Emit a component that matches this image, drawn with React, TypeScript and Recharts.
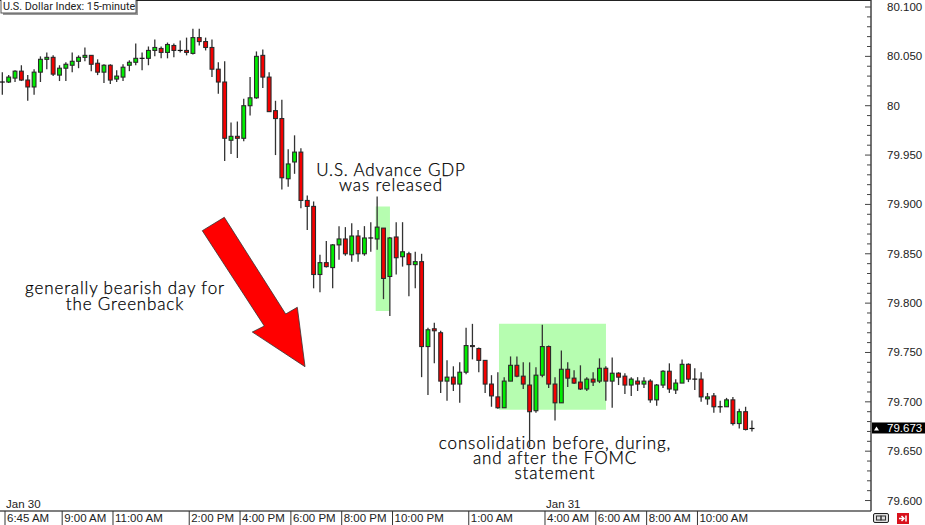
import React from 'react';
import { ComposedChart, Bar, XAxis, YAxis, ReferenceArea } from 'recharts';

const opens = [
  80.024, 80.024, 80.028, 80.035, 80.026, 80.019, 80.034, 80.047, 80.049, 80.031,
  80.038, 80.041, 80.045, 80.049, 80.051, 80.043, 80.034, 80.041, 80.027, 80.029,
  80.041, 80.044, 80.048, 80.048, 80.056, 80.058, 80.054, 80.061, 80.056, 80.056,
  80.053, 80.069, 80.065, 80.059, 80.037, 80.024, 79.965, 79.969, 79.967, 80.0,
  80.008, 80.051, 80.029, 79.995, 79.987, 79.926, 79.943, 79.953, 79.904, 79.898,
  79.829, 79.841, 79.836, 79.859, 79.865, 79.849, 79.868, 79.85, 79.866, 79.865,
  79.876, 79.827, 79.867, 79.847, 79.85, 79.839, 79.842, 79.756, 79.774, 79.77,
  79.721, 79.725, 79.718, 79.73, 79.757, 79.754, 79.742, 79.718, 79.705, 79.694,
  79.721, 79.737, 79.726, 79.717, 79.691, 79.727, 79.756, 79.718, 79.699, 79.733,
  79.724, 79.72, 79.713, 79.723, 79.721, 79.734, 79.721, 79.729, 79.726, 79.717,
  79.721, 79.718, 79.721, 79.702, 79.717, 79.731, 79.712, 79.719, 79.738, 79.723,
  79.723, 79.703, 79.706, 79.695, 79.695, 79.702, 79.678, 79.69, 79.673,
];

const closes = [
  80.024, 80.029, 80.035, 80.026, 80.019, 80.034, 80.047, 80.049, 80.032, 80.038,
  80.042, 80.045, 80.049, 80.051, 80.042, 80.034, 80.041, 80.026, 80.03, 80.039,
  80.044, 80.048, 80.048, 80.056, 80.059, 80.054, 80.062, 80.056, 80.056, 80.054,
  80.069, 80.065, 80.059, 80.037, 80.024, 79.967, 79.969, 79.967, 80.0, 80.008,
  80.05, 80.029, 79.994, 79.987, 79.927, 79.941, 79.953, 79.904, 79.898, 79.829,
  79.841, 79.837, 79.859, 79.865, 79.85, 79.868, 79.85, 79.866, 79.866, 79.877,
  79.825, 79.866, 79.846, 79.852, 79.839, 79.842, 79.756, 79.773, 79.772, 79.721,
  79.725, 79.718, 79.73, 79.757, 79.756, 79.742, 79.718, 79.706, 79.694, 79.721,
  79.737, 79.726, 79.718, 79.69, 79.727, 79.756, 79.718, 79.699, 79.733, 79.724,
  79.719, 79.713, 79.723, 79.72, 79.734, 79.721, 79.729, 79.725, 79.717, 79.723,
  79.718, 79.721, 79.702, 79.717, 79.731, 79.713, 79.719, 79.738, 79.723, 79.723,
  79.705, 79.705, 79.695, 79.695, 79.702, 79.678, 79.69, 79.672, 79.673,
];

const highs = [
  80.034, 80.031, 80.036, 80.041, 80.031, 80.037, 80.05, 80.054, 80.051, 80.041,
  80.044, 80.054, 80.051, 80.059, 80.051, 80.047, 80.042, 80.042, 80.036, 80.042,
  80.046, 80.063, 80.054, 80.06, 80.067, 80.06, 80.064, 80.063, 80.066, 80.069,
  80.078, 80.078, 80.069, 80.067, 80.044, 80.045, 79.983, 79.984, 80.007, 80.029,
  80.055, 80.057, 80.034, 80.005, 80.006, 79.956, 79.97, 79.957, 79.909, 79.903,
  79.849, 79.863, 79.86, 79.878, 79.877, 79.881, 79.874, 79.878, 79.882, 79.908,
  79.876, 79.867, 79.882, 79.882, 79.852, 79.852, 79.85, 79.775, 79.78, 79.772,
  79.742, 79.736, 79.74, 79.775, 79.779, 79.755, 79.742, 79.727, 79.73, 79.725,
  79.746, 79.746, 79.74, 79.74, 79.735, 79.778, 79.757, 79.725, 79.752, 79.74,
  79.732, 79.737, 79.725, 79.73, 79.744, 79.736, 79.745, 79.73, 79.729, 79.725,
  79.725, 79.725, 79.723, 79.718, 79.732, 79.739, 79.723, 79.743, 79.739, 79.734,
  79.73, 79.709, 79.709, 79.701, 79.704, 79.705, 79.693, 79.695, 79.681,
];

const lows = [
  80.011, 80.023, 80.024, 80.025, 80.005, 80.011, 80.024, 80.037, 80.03, 80.025,
  80.025, 80.034, 80.038, 80.045, 80.035, 80.031, 80.023, 80.022, 80.024, 80.025,
  80.035, 80.041, 80.036, 80.041, 80.05, 80.048, 80.048, 80.049, 80.054, 80.051,
  80.052, 80.061, 80.056, 80.029, 80.012, 79.944, 79.951, 79.947, 79.964, 79.99,
  80.007, 80.018, 79.994, 79.95, 79.915, 79.918, 79.931, 79.896, 79.874, 79.815,
  79.811, 79.836, 79.815, 79.844, 79.848, 79.842, 79.842, 79.848, 79.852, 79.854,
  79.804, 79.787, 79.829, 79.837, 79.807, 79.815, 79.725, 79.707, 79.739, 79.709,
  79.701, 79.711, 79.699, 79.728, 79.743, 79.73, 79.709, 79.695, 79.693, 79.694,
  79.721, 79.725, 79.713, 79.654, 79.689, 79.725, 79.714, 79.681, 79.699, 79.715,
  79.718, 79.712, 79.711, 79.716, 79.719, 79.701, 79.694, 79.717, 79.708, 79.706,
  79.711, 79.714, 79.699, 79.696, 79.714, 79.709, 79.708, 79.719, 79.72, 79.712,
  79.7, 79.697, 79.689, 79.689, 79.695, 79.676, 79.673, 79.671, 79.67,
];

// bar numbers of the time axis labels
const timeTicks = [0, 9, 17, 29, 37, 45, 53, 61, 73, 85, 93, 101, 109];
const timeLabels = [
  '6:45 AM', '9:00 AM', '11:00 AM', '2:00 PM', '4:00 PM', '6:00 PM', '8:00 PM',
  '10:00 PM', '1:00 AM', '4:00 AM', '6:00 AM', '8:00 AM', '10:00 AM',
];
const dateLabels: Record<number, string> = { 0: 'Jan 30', 85: 'Jan 31' };

const priceLabels = [79.6, 79.65, 79.7, 79.75, 79.8, 79.85, 79.9, 79.95, 80, 80.05, 80.1];
const minorTicks = [
  79.61, 79.62, 79.63, 79.64, 79.66, 79.67, 79.68, 79.69, 79.71, 79.72, 79.73, 79.74,
  79.76, 79.77, 79.78, 79.79, 79.81, 79.82, 79.83, 79.84, 79.86, 79.87, 79.88, 79.89,
  79.91, 79.92, 79.93, 79.94, 79.96, 79.97, 79.98, 79.99, 80.01, 80.02, 80.03, 80.04,
  80.06, 80.07, 80.08, 80.09,
];
const lastPrice = closes[closes.length - 1];

const table = opens.map((open, i) => ({
  i,
  open,
  close: closes[i],
  high: highs[i],
  low: lows[i],
  range: [lows[i], highs[i]],
}));

const UP = '#00ee00';
const DOWN = '#f40000';
const DARK = '#2a2a2a';
const LABEL_FONT = '"Liberation Sans", Arial, sans-serif';
const NOTE_FONT = 'Lato, sans-serif';

const Candle = (props: any) => {
  const { x, y, width, height, payload } = props;
  const { open, close, high, low } = payload;
  const perUnit = height / (high - low);
  const yOpen = y + (high - open) * perUnit;
  const yClose = y + (high - close) * perUnit;
  const top = Math.min(yOpen, yClose);
  const h = Math.abs(yOpen - yClose);
  const cx = x + width / 2;
  return (
    <g>
      <line x1={cx} x2={cx} y1={y} y2={y + height} stroke="#333" strokeWidth={1.3} />
      {open === close ? (
        <line x1={cx - 2.5} x2={cx + 2.5} y1={top} y2={top} stroke="#111" strokeWidth={1.2} />
      ) : (
        <rect
          x={cx - 1.9}
          y={top}
          width={3.8}
          height={h}
          fill={close > open ? UP : DOWN}
          stroke={DARK}
          strokeWidth={1.1}
        />
      )}
    </g>
  );
};

const PriceTick = (props: any) => {
  const { x, y, payload } = props;
  const v = payload.value;
  if (v === lastPrice) {
    return (
      <g>
        <rect x={x + 1} y={y - 6} width={53} height={11} fill="#000" />
        <path d={`M${x + 3} ${y + 2} L${x + 8} ${y + 2} L${x + 5.5} ${y - 2} Z`} fill="#fff" />
        <text x={x + 16} y={y + 4} fontFamily={LABEL_FONT} fontSize={11.5} fill="#fff">
          {v.toFixed(3)}
        </text>
      </g>
    );
  }
  const major = priceLabels.includes(v);
  return (
    <g>
      <line x1={x - (major ? 6 : 4)} x2={x} y1={y} y2={y} stroke="#444" strokeWidth={1} />
      {major && (
        <text x={x + 16} y={y + 4} fontFamily={LABEL_FONT} fontSize={11.5} fill="#222">
          {v === 80 ? '80' : v.toFixed(3)}
        </text>
      )}
    </g>
  );
};

const LeftTick = (props: any) => {
  const { x, y, payload } = props;
  const major = priceLabels.includes(payload.value);
  return <line x1={x} x2={x + (major ? 6 : 3)} y1={y} y2={y} stroke="#444" strokeWidth={1} />;
};

const TimeTick = (props: any) => {
  const { x, y, payload } = props;
  const idx = timeTicks.indexOf(payload.value);
  const date = dateLabels[payload.value];
  return (
    <g>
      <line x1={x + 3} x2={x + 3} y1={y} y2={y + 14} stroke="#333" strokeWidth={1} />
      <text x={x + 5} y={y + 11} fontFamily={LABEL_FONT} fontSize={11.5} fill="#222">
        {timeLabels[idx]}
      </text>
      {date && (
        <text x={x + 4} y={y - 3} fontFamily={LABEL_FONT} fontSize={11.5} fill="#222">
          {date}
        </text>
      )}
    </g>
  );
};

// one text element per note so the lines sit tight like in the original
const Note = ({ x, y, lines, gap = 15 }: { x: number; y: number; lines: string[]; gap?: number }) => (
  <text
    y={y}
    textAnchor="middle"
    fontFamily={NOTE_FONT}
    fontSize={17}
    fontWeight={300}
    letterSpacing={0.85}
    fill="#000"
    stroke="#000"
    strokeWidth={0.25}
  >
    {lines.map((line, k) => (
      <tspan key={line} x={x} dy={k === 0 ? 0 : gap}>
        {line}
      </tspan>
    ))}
  </text>
);

export default function App() {
  return (
    <div style={{ position: 'absolute', left: 0, top: 0, width: 925, height: 525, background: '#fff' }}>
      <ComposedChart width={925} height={525} data={table} margin={{ top: 0, right: 0, bottom: 0, left: 0 }}>
        <XAxis
          type="number"
          dataKey="i"
          domain={[-0.315, 136.79]}
          ticks={timeTicks}
          interval={0}
          height={14}
          tickLine={false}
          tickSize={0}
          tickMargin={0}
          stroke="#555"
          strokeWidth={1.5}
          tick={<TimeTick />}
        />
        <YAxis
          yAxisId="price"
          orientation="right"
          domain={[79.5894, 80.1071]}
          ticks={[...minorTicks, ...priceLabels, lastPrice]}
          interval={0}
          width={54}
          tickLine={false}
          tickSize={0}
          tickMargin={0}
          stroke="#444"
          strokeWidth={1.5}
          tick={<PriceTick />}
        />
        <YAxis
          yAxisId="left"
          orientation="left"
          domain={[79.5894, 80.1071]}
          ticks={[...minorTicks, ...priceLabels]}
          interval={0}
          width={0}
          axisLine={false}
          tickLine={false}
          tickSize={0}
          tickMargin={0}
          tick={<LeftTick />}
        />
        <Bar yAxisId="price" dataKey="range" barSize={5} shape={<Candle />} isAnimationActive={false} />
        <ReferenceArea
          yAxisId="price"
          x1={58.82}
          x2={61.07}
          y1={79.792}
          y2={79.898}
          fill="#48fa39"
          fillOpacity={0.4}
          stroke="none"
        />
        <ReferenceArea
          yAxisId="price"
          x1={78.23}
          x2={95.07}
          y1={79.692}
          y2={79.779}
          fill="#48fa39"
          fillOpacity={0.4}
          stroke="none"
        />

        <line x1={0} x2={871} y1={0.5} y2={0.5} stroke="#222" strokeWidth={1} />
        <rect x={3} y={1} width={135} height={14} fill="#999" />
        <rect x={1} y={-1} width={135} height={14} fill="#fff" stroke="#555" strokeWidth={1} />
        <text x={3} y={10} fontFamily="Roboto, sans-serif" fontSize={10.8} fill="#222">
          U.S. Dollar Index: 15-minute
        </text>

        <path
          d="M202.3 230.7 L224.3 217.3 L285.7 314 L297.3 307.3 L305 366.7 L252.3 332 L264.3 326 Z"
          fill="#ff0000"
          stroke="#333"
          strokeWidth={0.8}
        />

        <Note x={391} y={176} lines={['U.S. Advance GDP', 'was released']} />
        <Note x={125} y={294} gap={16} lines={['generally bearish day for', 'the Greenback']} />
        <Note x={555} y={449} lines={['consolidation before, during,', 'and after the FOMC', 'statement']} />

        <rect x={873.5} y={513.5} width={15} height={9} rx={1.5} fill="#ddd" stroke="#222" strokeWidth={1} />
        <rect x={876.5} y={516} width={4.5} height={4} fill="none" stroke="#333" strokeWidth={1} />
        <rect x={881} y={516} width={4.5} height={4} fill="none" stroke="#333" strokeWidth={1} />
        <rect x={897} y={513} width={12} height={11} fill="#d8121c" />
        <path d="M899 518.5 H903 M901.5 516 L904 518.5 L901.5 521 M906 515.5 V521.5" fill="none" stroke="#fff" strokeWidth={1.5} />
      </ComposedChart>
    </div>
  );
}
